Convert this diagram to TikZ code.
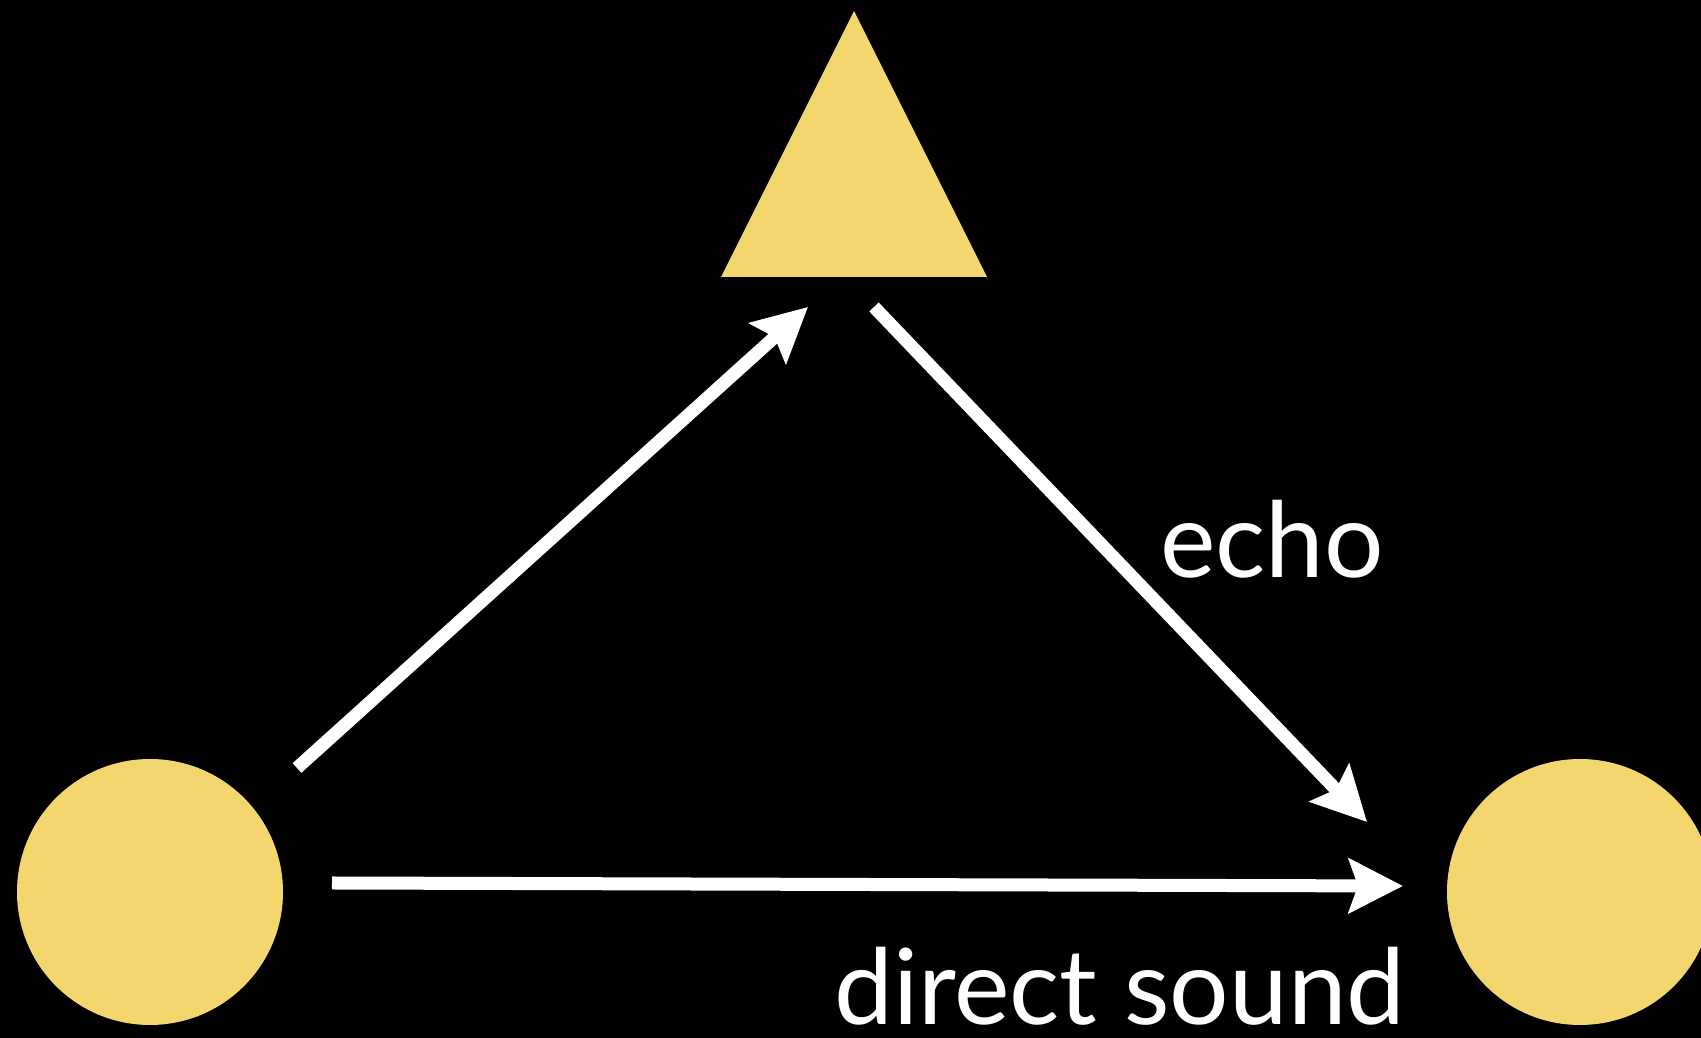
\documentclass[tikz,border=0pt]{standalone}
\usepackage{fontspec}
\setmainfont{Lato}
\usetikzlibrary{arrows.meta}
\definecolor{sand}{RGB}{244,214,110}
\tikzstyle{blob}=[circle,fill=sand,minimum size=266pt,inner sep=0pt]
\tikzstyle{ray}=[-{Stealth[length=54pt,width=54pt,inset=9pt]},white,line width=13pt]
\tikzstyle{lbl}=[white,anchor=base west,inner sep=0pt,font=\fontsize{105}{110}\selectfont]

\begin{document}
\begin{tikzpicture}[x=1pt,y=1pt]
\useasboundingbox (0,0) rectangle (1701,1038);
\clip (0,0) rectangle (1701,1038);
\fill[black] (0,0) rectangle (1701,1038);
% source, listener and the reflecting wall
\node[blob] (src) at (150,146) {};
\node[blob] (dst) at (1580,146) {};
\fill[sand] (721,761) -- (854,1027) -- (987,761) -- cycle;
% free ends of the rays
\coordinate (up0) at (297,270); \coordinate (up1) at (808,731);
\coordinate (dn0) at (874,731); \coordinate (dn1) at (1367,216);
\coordinate (dir0) at (332,155); \coordinate (dir1) at (1403,152);
\draw[ray] (up0)--(up1);
\draw[ray] (dn0)--(dn1);
\draw[ray] (dir0)--(dir1);
\node[lbl] (echo) at (1160,460) {echo};
\node[lbl] (direct) at (834,13) {direct sound};
\end{tikzpicture}
\end{document}
